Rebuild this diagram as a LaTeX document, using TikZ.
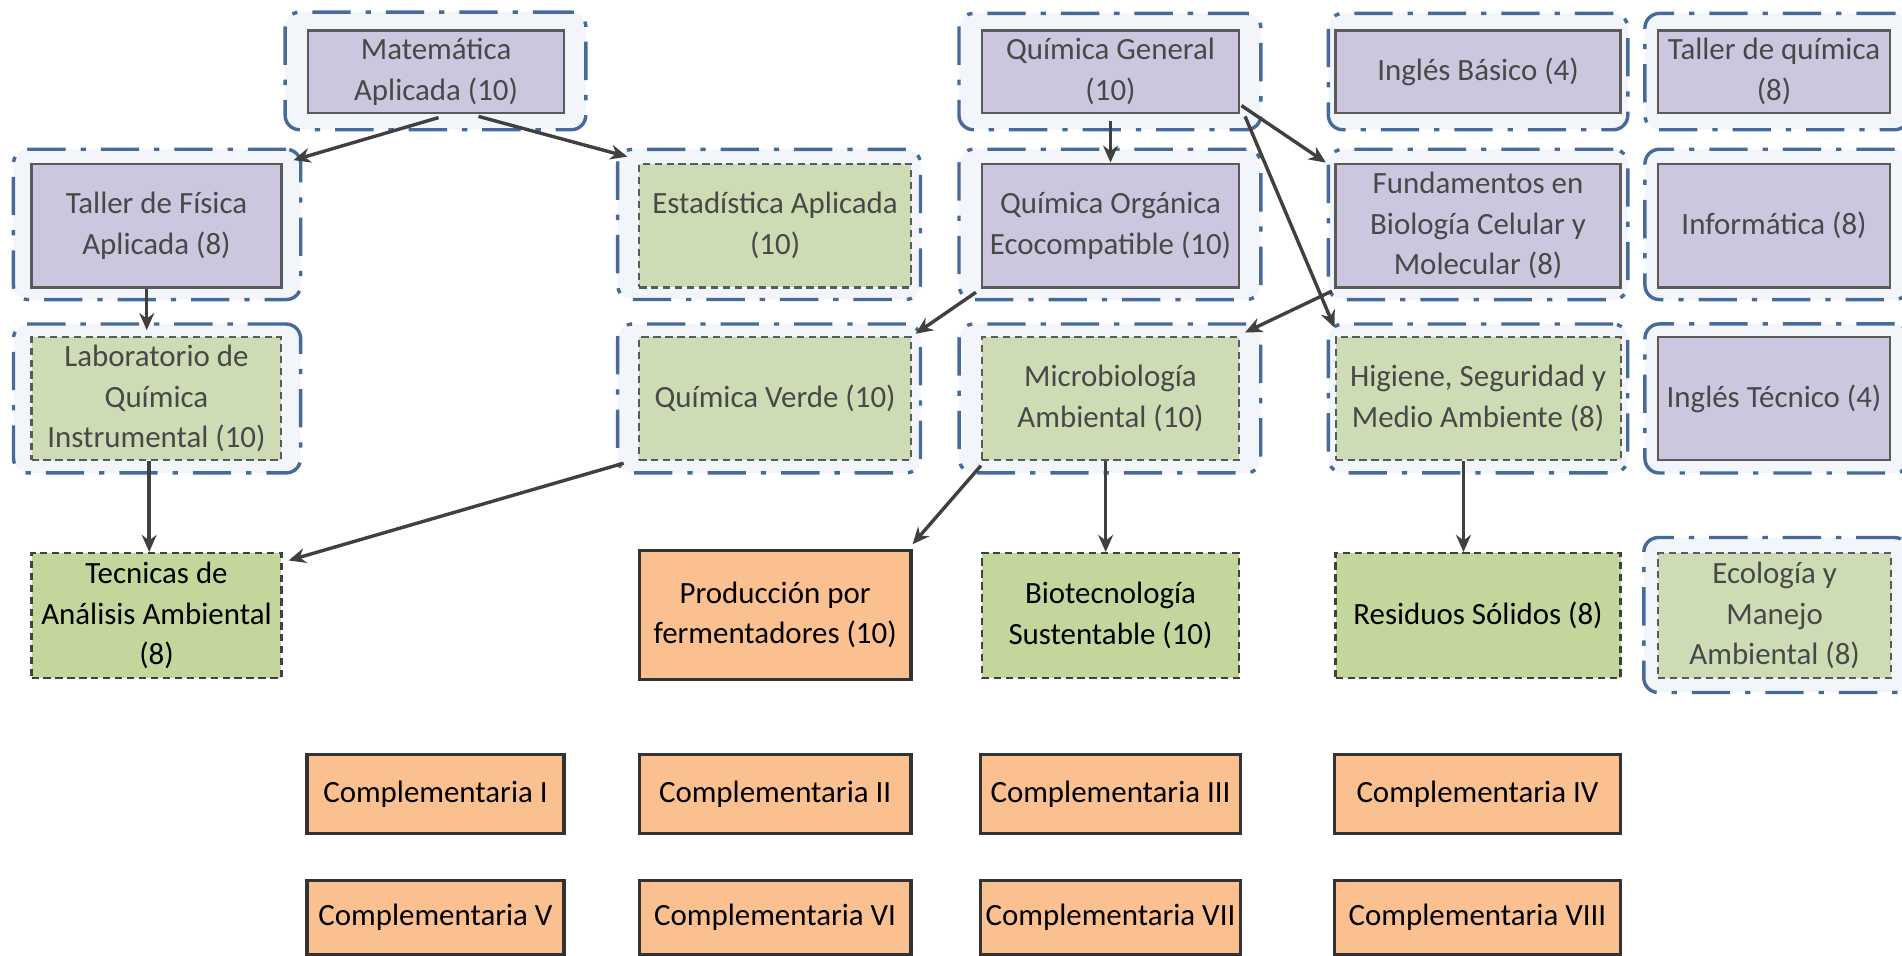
\documentclass[tikz,border=0pt]{standalone}
\usepackage{fontspec}
\setmainfont{Carlito}
\usetikzlibrary{arrows.meta,calc,fit,backgrounds}
\definecolor{purp}{RGB}{204,198,222}
\definecolor{lgreen}{RGB}{205,220,180}
\definecolor{bgreen}{RGB}{195,214,155}
\definecolor{orng}{RGB}{250,192,144}
\definecolor{grpblue}{RGB}{70,106,155}
\definecolor{grpfill}{RGB}{242,246,251}
\definecolor{boxline}{RGB}{90,90,90}
\definecolor{grptext}{RGB}{72,72,72}
\definecolor{arrcol}{RGB}{64,64,64}
\newcommand\fsz{\fontsize{14.5}{19}\selectfont}
\newcommand\grpbox[5]{\node[grp, fit={($(#1.north west)+(-#2,-#3)$) ($(#1.south east)+(#4,#5)$)}] (g#1) {};}
\begin{document}
\begin{tikzpicture}[x=0.02cm,y=-0.02cm,
  box/.style={rectangle, align=center, inner sep=1pt, font=\fsz},
  purpbox/.style={box, fill=purp, draw=boxline, line width=1.1pt, text=grptext},
  lgbox/.style={box, fill=lgreen, draw=boxline, line width=1pt, dash pattern=on 3.4pt off 2.2pt, text=grptext},
  bgbox/.style={box, fill=bgreen, draw=black!75, line width=1.1pt, dash pattern=on 3.4pt off 2.2pt, text=black},
  orbox/.style={box, fill=orng, draw=black!80, line width=1.5pt, text=black},
  grp/.style={draw=grpblue, fill=grpfill, line width=1.6pt, rounded corners=0.24cm, inner sep=0pt, dash pattern=on 18pt off 7pt on 2.5pt off 7pt},
  arr/.style={draw=arrcol, line width=1.6pt, -{Stealth[length=8pt,width=7pt]}}
]
\useasboundingbox (0,0) rectangle (1568,788);

% row 1
\node[purpbox, minimum width=4.22cm, minimum height=1.36cm] (mat) at (359.5,59) {Matemática\\Aplicada (10)};
\node[purpbox, minimum width=4.24cm, minimum height=1.36cm] (qg) at (915.5,59) {Química General\\(10)};
\node[purpbox, minimum width=4.70cm, minimum height=1.36cm] (ib) at (1218.5,59) {Inglés Básico (4)};
\node[purpbox, minimum width=3.82cm, minimum height=1.36cm] (tq) at (1462.5,59) {Taller de química\\(8)};
% row 2
\node[purpbox, minimum width=4.12cm, minimum height=2.04cm] (tf) at (129,186) {Taller de Física\\Aplicada (8)};
\node[lgbox, minimum width=4.48cm, minimum height=2.04cm] (est) at (639,186) {Estadística Aplicada\\(10)};
\node[purpbox, minimum width=4.24cm, minimum height=2.04cm] (qo) at (915.5,186) {Química Orgánica\\Ecocompatible (10)};
\node[purpbox, minimum width=4.70cm, minimum height=2.04cm] (fund) at (1218.5,186) {Fundamentos en\\Biología Celular y\\Molecular (8)};
\node[purpbox, minimum width=3.82cm, minimum height=2.04cm] (inf) at (1462.5,186) {Informática (8)};
% row 3
\node[lgbox, minimum width=4.12cm, minimum height=2.02cm] (lab) at (129,328.5) {Laboratorio de\\Química\\Instrumental (10)};
\node[lgbox, minimum width=4.48cm, minimum height=2.02cm] (qv) at (639,328.5) {Química Verde (10)};
\node[lgbox, minimum width=4.24cm, minimum height=2.02cm] (mic) at (915.5,328.5) {Microbiología\\Ambiental (10)};
\node[lgbox, minimum width=4.70cm, minimum height=2.02cm] (hig) at (1218.5,328.5) {Higiene, Seguridad y\\Medio Ambiente (8)};
\node[purpbox, minimum width=3.82cm, minimum height=2.02cm] (it) at (1462.5,328.5) {Inglés Técnico (4)};
% row 4
\node[bgbox, minimum width=4.12cm, minimum height=2.06cm] (tec) at (129,507.5) {Tecnicas de\\Análisis Ambiental\\(8)};
\node[orbox, minimum width=4.48cm, minimum height=2.12cm] (prod) at (639,507) {Producción por\\fermentadores (10)};
\node[bgbox, minimum width=4.24cm, minimum height=2.06cm] (bio) at (915.5,507.5) {Biotecnología\\Sustentable (10)};
\node[bgbox, minimum width=4.70cm, minimum height=2.06cm] (res) at (1218.5,507.5) {Residuos Sólidos (8)};
\node[lgbox, minimum width=3.84cm, minimum height=2.06cm] (eco) at (1463,507.5) {Ecología y\\Manejo\\Ambiental (8)};
% row 5
\node[orbox, minimum width=4.24cm, minimum height=1.30cm] (c1) at (359,654.5) {Complementaria I};
\node[orbox, minimum width=4.48cm, minimum height=1.30cm] (c2) at (639,654.5) {Complementaria II};
\node[orbox, minimum width=4.28cm, minimum height=1.30cm] (c3) at (915.5,654.5) {Complementaria III};
\node[orbox, minimum width=4.72cm, minimum height=1.30cm] (c4) at (1218,654.5) {Complementaria IV};
% row 6
\node[orbox, minimum width=4.24cm, minimum height=1.22cm] (c5) at (359,756.5) {Complementaria V};
\node[orbox, minimum width=4.48cm, minimum height=1.22cm] (c6) at (639,756.5) {Complementaria VI};
\node[orbox, minimum width=4.28cm, minimum height=1.22cm] (c7) at (915.5,756.5) {Complementaria VII};
\node[orbox, minimum width=4.72cm, minimum height=1.22cm] (c8) at (1218,756.5) {Complementaria VIII};

\begin{scope}[on background layer]
\grpbox{mat}{18}{14}{17}{13}
\grpbox{qg}{18}{13}{17}{13}
\grpbox{ib}{5}{13}{5}{13}
\grpbox{tq}{10}{13}{15}{13}
\grpbox{tf}{14}{11}{15}{9}
\grpbox{est}{17}{11}{7}{9}
\grpbox{qo}{18}{11}{17}{9}
\grpbox{fund}{5}{11}{5}{9}
\grpbox{inf}{10}{11}{15}{9}
\grpbox{lab}{14}{10}{15}{10}
\grpbox{qv}{17}{10}{7}{10}
\grpbox{mic}{18}{10}{17}{10}
\grpbox{hig}{5}{10}{5}{10}
\grpbox{it}{10}{10}{15}{10}
\grpbox{eco}{11}{12}{14}{11}
\end{scope}

% connectors
\draw[arr] ($(mat.south)+(2,3)$) -- ($(tf.north east)+(9,-2)$);
\draw[arr] ($(mat.south)+(35,2)$) -- ($(est.north west)+(-9,-5)$);
\draw[arr] ($(tf.south)+(-8,0)$) -- ($(lab.north)+(-8,-5)$);
\draw[arr] ($(qg.south)+(0,6)$) -- (qo.north);
\draw[arr] ($(qg.north east)+(1,63)$) -- ($(fund.north west)+(-7,0)$);
\draw[arr] ($(qg.south east)+(4,2)$) -- ($(hig.north west)+(0,-7)$);
\draw[arr] ($(qo.south west)+(-4,3)$) -- ($(qv.north east)+(3,-2)$);
\draw[arr] ($(fund.south west)+(-2,2)$) -- ($(mic.north east)+(4,-3)$);
\draw[arr] ($(lab.south)+(-6,0)$) -- ($(tec.north)+(-6,0)$);
\draw[arr] ($(qv.south west)+(-12,2)$) -- ($(tec.north east)+(5,7)$);
\draw[arr] ($(mic.south west)+(0,4)$) -- ($(prod.north east)+(0,-4)$);
\draw[arr] ($(mic.south)+(-4,0)$) -- ($(bio.north)+(-4,0)$);
\draw[arr] ($(hig.south)+(-12,0)$) -- ($(res.north)+(-12,0)$);
\end{tikzpicture}
\end{document}
